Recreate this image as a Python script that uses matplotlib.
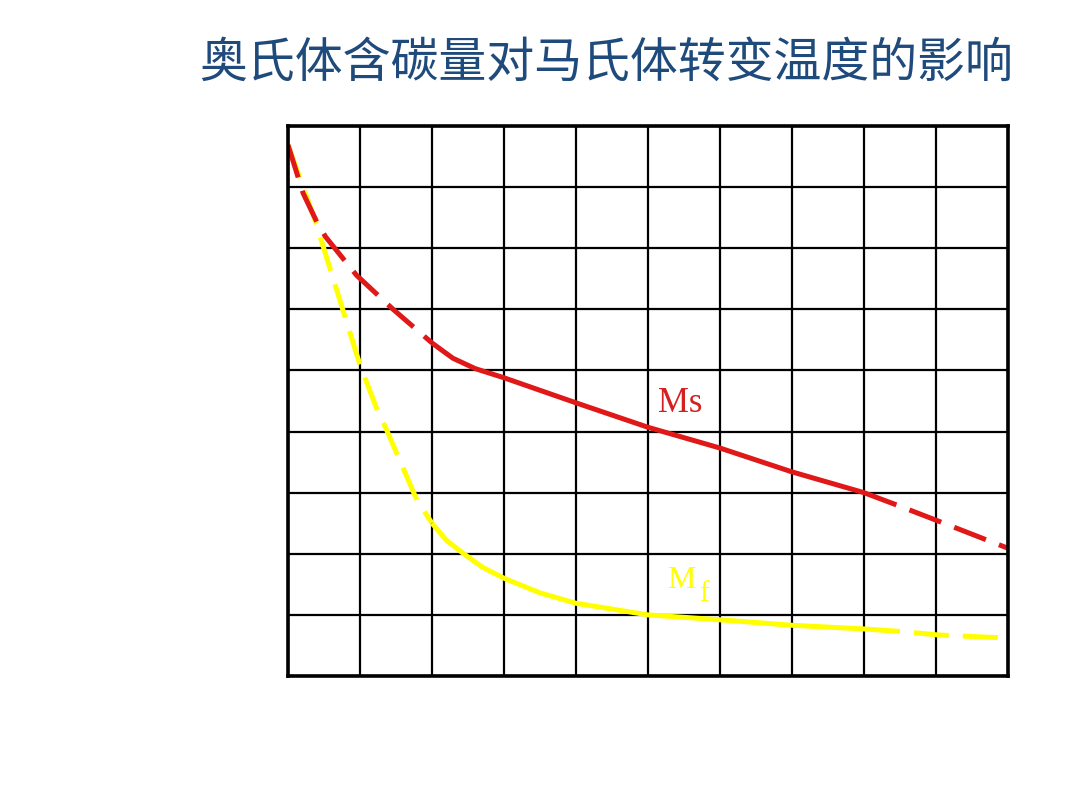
import numpy as np
import matplotlib.pyplot as plt

plt.rcParams['font.family'] = ['Noto Sans CJK SC', 'DejaVu Sans']

title = '奥氏体含碳量对马氏体转变温度的影响'

# grid units (10 columns x 9 rows)
ms_x = [0, 0.21, 0.4, 0.52, 0.95, 1.46, 2.0, 2.15, 2.29, 2.6, 3.0, 4.0, 5.0, 6.0, 7.0, 8.0, 8.45, 9.0, 10.0]
ms_y = [8.69, 7.9, 7.43, 7.19, 6.56, 6.0, 5.45, 5.32, 5.2, 5.03, 4.88, 4.47, 4.07, 3.73, 3.34, 3.0, 2.8, 2.55, 2.09]
ms_solid = (2.0, 8.45)

mf_x = [0, 0.375, 1.0, 1.25, 1.35, 1.79, 2.0, 2.2, 2.43, 2.7, 3.0, 3.5, 4.0, 5.0, 6.0, 7.0, 8.0, 8.5, 9.05, 10.0]
mf_y = [8.69, 7.46, 5.09, 4.32, 4.08, 2.88, 2.5, 2.22, 2.01, 1.78, 1.6, 1.36, 1.19, 1.0, 0.92, 0.83, 0.77, 0.73, 0.67, 0.62]
mf_solid = (2.0, 8.5)

red = '#e01818'
yellow = '#ffff00'

fig = plt.figure(figsize=(10.8, 8.1), dpi=100)
ax = fig.add_axes([288/1080, 134/810, 720/1080, 550/810])


def draw(xs, ys, solid, color, dash):
    xs = np.array(xs)
    ys = np.array(ys)
    a, b = solid
    left = xs <= a
    mid = (xs >= a) & (xs <= b)
    right = xs >= b
    ax.plot(xs[left], ys[left], color=color, lw=3.6, linestyle=(0, dash),
            dash_capstyle='butt', zorder=3)
    ax.plot(xs[mid], ys[mid], color=color, lw=3.6, solid_capstyle='butt',
            solid_joinstyle='round', zorder=3)
    # start the right-hand dashes with a gap, as in the original
    ax.plot(xs[right], ys[right], color=color, lw=3.6, linestyle=(dash[0], dash),
            dash_capstyle='butt', zorder=3)


draw(mf_x, mf_y, mf_solid, yellow, (7.0, 2.8))
draw(ms_x, ms_y, ms_solid, red, (6.8, 2.8))

ax.set_xlim(0, 10)
ax.set_ylim(0, 9)
ax.set_xticks(range(11))
ax.set_yticks(range(10))
ax.tick_params(length=0, labelbottom=False, labelleft=False)
ax.grid(True, color='black', lw=1.6)
ax.set_axisbelow(True)
for s in ax.spines.values():
    s.set_linewidth(2.6)
    s.set_zorder(4)

ax.text(5.14, 4.32, 'Ms', color='#d42020', fontsize=25, family='Liberation Serif')
ax.text(5.26, 1.44, 'M', color=yellow, fontsize=23, family='Liberation Serif')
ax.text(5.71, 1.22, 'f', color=yellow, fontsize=21, family='Liberation Serif')

fig.text(606/1080, 1 - 63/810, title, ha='center', va='center',
         fontsize=34.5, color='#1f4a7c')

fig.savefig('out.png')
